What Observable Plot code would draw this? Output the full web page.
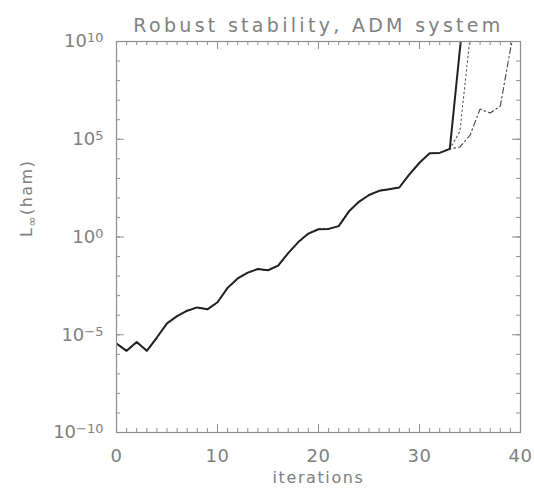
<!DOCTYPE html>
<html><head><meta charset="utf-8">
<script src="https://cdn.jsdelivr.net/npm/d3@7"></script>
<script src="https://cdn.jsdelivr.net/npm/@observablehq/plot@0.6"></script>
<style>body{margin:0;background:#fff;} svg{display:block;}</style>
</head><body><div id="chart"></div>
<script>
// ---- data ----
const sharedIter = [0,1,2,3,4,5,6,7,8,9,10,11,12,13,14,15,16,17,18,19,20,21,22,23,24,25,26,27,28,29,30,31,32,33];
const sharedVals = [3.5e-6,1.5e-6,4.2e-6,1.5e-6,7.2e-6,3.8e-5,9.0e-5,1.7e-4,2.5e-4,2.0e-4,4.6e-4,2.5e-3,7.6e-3,1.5e-2,2.3e-2,2.0e-2,3.4e-2,0.15,0.55,1.5,2.5,2.6,3.6,20,63,140,230,280,340,1600,6300,1.9e4,2.0e4,3.2e4];
const solidIter = [34,35];
const solidVals = [4e9,1e14];
const dottedIter = [34,35,36];
const dottedVals = [2.5e5,1.6e10,1e14];
const dashIter = [34,35,36,37,38,39,40];
const dashVals = [4e4,1.6e5,3.5e6,2.2e6,5e6,4e9,1e12];

const xMajorTicks = [0,10,20,30,40];
const xTickLabels = ["0","10","20","30","40"];
const yMajorTicks = [1e-10,1e-5,1,1e5,1e10];
const yTickExponents = ["\u221210","\u22125","0","5","10"];
const title = "Robust stability, ADM system";
const xLabel = "iterations";
const yLabel = "L\u221E(ham)";

// ---- derived tables ----
const xMinorTicks = d3.range(0, 41);
const yMinorTicks = d3.range(-10, 11).map(e => Math.pow(10, e));
const series = (iters, vals) => iters.map((x, i) => ({x, y: vals[i]}));
const shared = series(sharedIter, sharedVals);
const solid = shared.concat(series(solidIter, solidVals));
const dotted = shared.concat(series(dottedIter, dottedVals));
const dashdot = shared.concat(series(dashIter, dashVals));

const W = 534, H = 495;
const mL = 116, mR = 14, mT = 41, mB = 63;
const fw = W - mL - mR, fh = H - mT - mB;
const axisColor = "#8e8e8e", textColor = "#808080", lineColor = "#222";
const font = "DejaVu Sans";

const chart = Plot.plot({
  width: W, height: H,
  marginLeft: mL, marginRight: mR, marginTop: mT, marginBottom: mB,
  style: {fontFamily: font, background: "#fff", color: textColor},
  x: {domain: [0, 40], axis: null},
  y: {type: "log", domain: [1e-10, 1e10], axis: null},
  marks: [
    // lines
    Plot.line(dashdot, {x: "x", y: "y", stroke: "#444", strokeWidth: 1.1, strokeDasharray: "6,3,1.5,3", clip: true}),
    Plot.line(dotted, {x: "x", y: "y", stroke: "#555", strokeWidth: 1.1, strokeDasharray: "1.5,3", clip: true}),
    Plot.line(solid, {x: "x", y: "y", stroke: lineColor, strokeWidth: 2, clip: true}),
    // frame
    Plot.frame({stroke: axisColor, strokeWidth: 1.2}),
    // x ticks (inward, bottom and top)
    Plot.tickX(xMinorTicks, {x: d => d, insetTop: fh - 4, stroke: axisColor}),
    Plot.tickX(xMinorTicks, {x: d => d, insetBottom: fh - 4, stroke: axisColor}),
    Plot.tickX(xMajorTicks, {x: d => d, insetTop: fh - 8, stroke: axisColor}),
    Plot.tickX(xMajorTicks, {x: d => d, insetBottom: fh - 8, stroke: axisColor}),
    // y ticks (inward, left and right)
    Plot.tickY(yMinorTicks, {y: d => d, insetRight: fw - 4, stroke: axisColor}),
    Plot.tickY(yMinorTicks, {y: d => d, insetLeft: fw - 4, stroke: axisColor}),
    Plot.tickY(yMajorTicks, {y: d => d, insetRight: fw - 8, stroke: axisColor}),
    Plot.tickY(yMajorTicks, {y: d => d, insetLeft: fw - 8, stroke: axisColor}),
    // tick labels
    Plot.text(xMajorTicks, {x: d => d, text: (d, i) => xTickLabels[i], frameAnchor: "bottom", dy: 29, fontSize: 18, fill: textColor}),
    Plot.text(yMajorTicks, {y: d => d, text: (d, i) => "10^" + yTickExponents[i], frameAnchor: "left", dx: -13, textAnchor: "end", fontSize: 18, fill: textColor}),
    // axis labels and title
    Plot.text([xLabel], {text: d => d, frameAnchor: "bottom", dy: 50, fontSize: 16, fill: textColor}),
    Plot.text([yLabel], {text: d => d, frameAnchor: "left", dx: -90, rotate: -90, fontSize: 16, fill: textColor}),
    Plot.text([title], {text: d => d, frameAnchor: "top", dy: -23, fontSize: 19, fill: textColor})
  ]
});

// typographic touches: superscripts / subscripts / spacing
d3.select(chart).selectAll("text").each(function() {
  const el = d3.select(this);
  const t = this.textContent;
  if (t.startsWith("10^")) {
    const exp = t.slice(3);
    el.text("10");
    el.append("tspan").attr("dy", "-5").attr("font-size", 13).text(exp);
  } else if (t === yLabel) {
    el.text("L").attr("letter-spacing", "1.5px");
    el.append("tspan").attr("dy", "4").attr("font-size", 12).text("\u221E");
    el.append("tspan").attr("dy", "-4").text("(ham)");
  } else if (t === title) {
    el.attr("letter-spacing", "3.3px");
  } else if (t === xLabel) {
    el.attr("letter-spacing", "1.6px");
  } else if (xTickLabels.includes(t)) {
    el.attr("letter-spacing", "0.5px");
  }
});

document.getElementById("chart").appendChild(chart);
</script>
</body></html>
